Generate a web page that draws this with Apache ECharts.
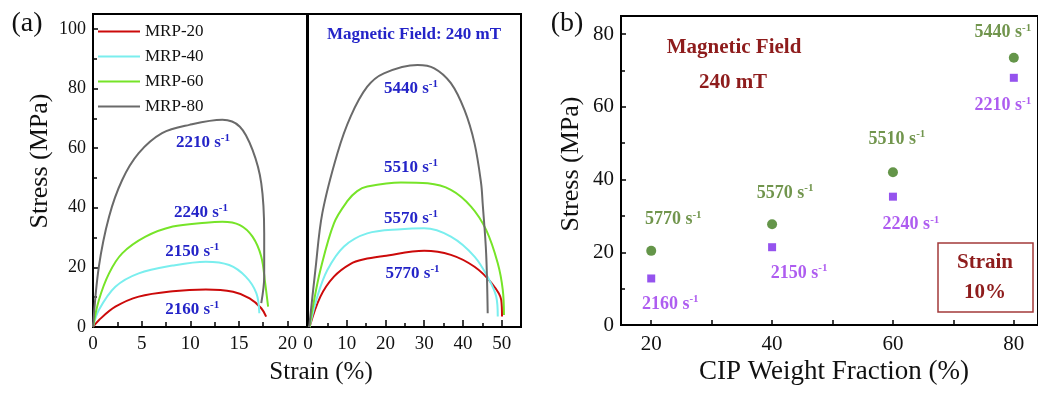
<!DOCTYPE html>
<html>
<head>
<meta charset="utf-8">
<script src="https://cdn.jsdelivr.net/npm/echarts@6/dist/echarts.min.js"></script>
<style>
html,body{margin:0;padding:0;background:#fff}
#main{width:1038px;height:393px}
</style>
</head>
<body>
<div id="main"></div>
<script>
//---------------- data ----------------
var grades = ['MRP-20', 'MRP-40', 'MRP-60', 'MRP-80'];

// (a) left: strain (%), stress (MPa) at ~2200 s-1
var lowRate20 = [[0,0],[0.6,2.3],[2.3,6.8],[4.7,10.2],[8.2,12],[11.6,12.6],[14.4,11.8],[16.1,9.6],[17.3,6.3],[17.8,3.5]];
var lowRate40 = [[0,0],[0.6,5.7],[2.3,13.5],[4.7,18],[8.2,20.6],[11.6,21.9],[14,20.8],[15.7,16.9],[16.8,11.3],[17.1,4.6]];
var lowRate60 = [[0,0],[0.6,9],[1.65,18],[3,24.7],[5.4,30.3],[8.2,33.7],[11.6,35],[13.3,35.3],[15.1,34.2],[16.4,30.3],[17.3,23.6],[17.7,14.7],[18,6.8]];
var lowRate80 = [[0,0],[0.6,20.2],[1.65,37],[3,49.3],[4.7,58.3],[7.1,65],[9.9,67.8],[13.3,69.5],[15.1,67.2],[16.4,59.4],[17.3,48.2],[17.6,31.4],[17.6,16.9],[17.3,8]];

// (a) right: strain (%), stress (MPa) at ~5500 s-1
var highRate20 = [[0.4,0],[3.2,10.2],[6.7,16.9],[11,21.2],[14.5,22.7],[19.6,23.8],[30,25.6],[36.9,24.2],[43,20.2],[47.4,14.7],[49.9,9.1],[50.1,3.5]];
var highRate40 = [[0.4,0],[2.4,10.2],[5,19.1],[9.3,27],[15.3,31.4],[24,32.8],[30,33.1],[36.9,30.3],[43,23.6],[46.8,15.8],[48.6,10.2],[49,3.5]];
var highRate60 = [[0.4,0],[1.3,7],[3.2,19.1],[6.7,34.8],[10.2,42.3],[12.7,45.6],[15.3,47.1],[24,48.5],[30.9,48.2],[36.9,46],[42.1,40.4],[46,32.6],[49,21.4],[50.3,12.4],[50.6,4]];
var highRate80 = [[0.3,0],[1.9,19.1],[3.7,38.2],[7.6,58.3],[11,70.6],[15.3,80.6],[19.6,85.1],[28.3,87.9],[32.6,86.8],[36.9,81.8],[40.4,72.8],[43,61.6],[44.7,48.2],[45.1,41.5],[46,24.7],[46.4,4.6]];

var lowRates = ['2160', '2150', '2240', '2210'];
var highRates = ['5770', '5570', '5510', '5440'];

// (b) stress at 10% strain
var cipFraction = [20, 40, 60, 80];
var stressHighRate = [20.4, 27.7, 42.0, 73.5];
var stressLowRate = [12.8, 21.4, 35.3, 68.0];

//---------------- style ----------------
var FONT = 'Liberation Serif';
var curveColors = ['#cc0a0a', '#7aeeee', '#76e428', '#6a6a6a'];
var rateBlue = '#2424c8';
var darkRed = '#8e1c1c';
var greenTxt = '#4e7a20';
var purpleTxt = '#9a35ec';

function rateText(rate) {
    return '{v|' + rate + ' s}{s|-1}';
}
function rateRich(color, size) {
    return {
        v: {fontFamily: FONT, fontWeight: 'bold', fontSize: size, color: color, lineHeight: size + 3},
        s: {fontFamily: FONT, fontWeight: 'bold', fontSize: Math.round(size * 0.62), color: color, lineHeight: Math.round(size * 0.7), verticalAlign: 'top'}
    };
}

var myChart = echarts.init(document.getElementById('main'));

var lowCurves = [lowRate20, lowRate40, lowRate60, lowRate80];
var highCurves = [highRate20, highRate40, highRate60, highRate80];
// where the rate notes sit (data coords)
var lowNoteAt = [[10.2, 5.7], [10.2, 25.2], [11.1, 38.3], [11.3, 62]];
var highNoteAt = [[27, 17.8], [26.6, 36.2], [26.6, 53.4], [26.6, 80]];

function curveSeries(name, data, color, axis, note, rate) {
    return {
        name: name,
        type: 'line',
        xAxisIndex: axis,
        yAxisIndex: axis,
        data: data,
        smooth: 0.35,
        symbol: 'none',
        showSymbol: false,
        lineStyle: {width: 2, color: color},
        itemStyle: {color: color},
        markPoint: {
            symbol: 'circle',
            symbolSize: 0,
            silent: true,
            label: {
                show: true,
                position: 'inside',
                formatter: rateText(rate),
                rich: rateRich(rateBlue, 17)
            },
            data: [{coord: note}]
        }
    };
}

var series = [];
for (var i = 0; i < 4; i++) {
    series.push(curveSeries(grades[i], lowCurves[i], curveColors[i], 0, lowNoteAt[i], lowRates[i]));
}
for (var j = 0; j < 4; j++) {
    series.push(curveSeries(grades[j], highCurves[j], curveColors[j], 1, highNoteAt[j], highRates[j]));
}

var greenShift = [[22, -31], [13, -31], [4, -33], [-11, -25]];
var purpleShift = [[19, 26], [27, 26], [18, 28], [-11, 28]];

series.push({
    name: 'high rate',
    type: 'scatter',
    xAxisIndex: 2,
    yAxisIndex: 2,
    symbol: 'circle',
    symbolSize: 10,
    itemStyle: {color: '#3d7a1c'},
    data: cipFraction.map(function (x, k) {
        return {value: [x, stressHighRate[k]], label: {offset: greenShift[k]}};
    }),
    label: {
        show: true,
        position: 'inside',
        formatter: function (p) { return rateText(highRates[p.dataIndex]); },
        rich: rateRich(greenTxt, 18)
    }
});
series.push({
    name: 'low rate',
    type: 'scatter',
    xAxisIndex: 2,
    yAxisIndex: 2,
    symbol: 'rect',
    symbolSize: 8,
    itemStyle: {color: '#7a28ea'},
    data: cipFraction.map(function (x, k) {
        return {value: [x, stressLowRate[k]], label: {offset: purpleShift[k]}};
    }),
    label: {
        show: true,
        position: 'inside',
        formatter: function (p) { return rateText(lowRates[p.dataIndex]); },
        rich: rateRich(purpleTxt, 18)
    }
});

var tickLbl = {fontFamily: FONT, color: '#111'};
var gridStyle = {show: true, borderColor: '#000', borderWidth: 2, backgroundColor: 'transparent'};

var option = {
    animation: false,
    textStyle: {fontFamily: FONT},
    grid: [
        Object.assign({left: 93, top: 14, width: 214, height: 313}, gridStyle),
        Object.assign({left: 308, top: 14, width: 213, height: 313}, gridStyle),
        Object.assign({left: 621, top: 16, width: 420, height: 309}, gridStyle)
    ],
    legend: {
        data: grades,
        orient: 'vertical',
        left: 97,
        top: 23,
        padding: 0,
        itemWidth: 42,
        itemHeight: 16,
        itemGap: 8,
        itemStyle: {opacity: 0},
        lineStyle: {width: 2},
        textStyle: {fontFamily: FONT, fontSize: 17, color: '#111'}
    },
    xAxis: [
        {
            gridIndex: 0, type: 'value', min: 0, max: 22, interval: 5,
            axisLine: {show: false},
            splitLine: {show: false},
            axisTick: {inside: true, length: 6, lineStyle: {color: '#000', width: 1.5}},
            minorTick: {show: true, splitNumber: 2, length: 5, lineStyle: {color: '#000', width: 1.5}},
            axisLabel: Object.assign({fontSize: 19, margin: 8, showMaxLabel: false}, tickLbl)
        },
        {
            gridIndex: 1, type: 'value', min: 0, max: 55, interval: 10,
            axisLine: {show: false},
            splitLine: {show: false},
            axisTick: {inside: true, length: 7, lineStyle: {color: '#000', width: 1.5}},
            minorTick: {show: true, splitNumber: 2, length: 4, lineStyle: {color: '#000', width: 1.5}},
            axisLabel: Object.assign({fontSize: 19, margin: 8, showMaxLabel: false}, tickLbl)
        },
        {
            gridIndex: 2, type: 'value', min: 15, max: 84,
            axisLine: {show: false},
            splitLine: {show: false},
            axisTick: {inside: true, length: 5, customValues: [20, 30, 40, 50, 60, 70, 80], lineStyle: {color: '#000', width: 1.5}},
            axisLabel: Object.assign({fontSize: 21, margin: 9, customValues: [20, 40, 60, 80]}, tickLbl)
        }
    ],
    yAxis: [
        {
            gridIndex: 0, type: 'value', min: 0, max: 105, interval: 20,
            axisLine: {show: false},
            splitLine: {show: false},
            axisTick: {inside: true, length: 5, lineStyle: {color: '#000', width: 1.5}},
            minorTick: {show: true, splitNumber: 2, length: 4, lineStyle: {color: '#000', width: 1.5}},
            axisLabel: Object.assign({fontSize: 18, margin: 7, showMaxLabel: false}, tickLbl)
        },
        {
            gridIndex: 1, type: 'value', min: 0, max: 105, interval: 20,
            axisLine: {show: false},
            splitLine: {show: false},
            axisTick: {show: false},
            axisLabel: {show: false}
        },
        {
            gridIndex: 2, type: 'value', min: 0, max: 85, interval: 20,
            axisLine: {show: false},
            splitLine: {show: false},
            axisTick: {inside: true, length: 5, lineStyle: {color: '#000', width: 1.5}},
            minorTick: {show: true, splitNumber: 2, length: 4, lineStyle: {color: '#000', width: 1.5}},
            axisLabel: Object.assign({fontSize: 21, margin: 7, showMaxLabel: false}, tickLbl)
        }
    ],
    graphic: [
        {type: 'text', x: 27, y: 24, style: {text: '(a)', font: '28px "' + FONT + '"', fill: '#111', align: 'center', verticalAlign: 'middle'}},
        {type: 'text', x: 567, y: 24, style: {text: '(b)', font: '28px "' + FONT + '"', fill: '#111', align: 'center', verticalAlign: 'middle'}},
        {type: 'text', x: 40, y: 161, rotation: Math.PI / 2, style: {text: 'Stress (MPa)', font: '26px "' + FONT + '"', fill: '#111', align: 'center', verticalAlign: 'middle'}},
        {type: 'text', x: 571, y: 164, rotation: Math.PI / 2, style: {text: 'Stress (MPa)', font: '26px "' + FONT + '"', fill: '#111', align: 'center', verticalAlign: 'middle'}},
        {type: 'text', x: 321, y: 372, style: {text: 'Strain (%)', font: '25px "' + FONT + '"', fill: '#111', align: 'center', verticalAlign: 'middle'}},
        {type: 'text', x: 834, y: 372, style: {text: 'CIP Weight Fraction (%)', font: '27px "' + FONT + '"', fill: '#111', align: 'center', verticalAlign: 'middle'}},
        {type: 'text', x: 414, y: 35, style: {text: 'Magnetic Field: 240 mT', font: 'bold 17px "' + FONT + '"', fill: rateBlue, align: 'center', verticalAlign: 'middle'}},
        {type: 'text', x: 734, y: 48, style: {text: 'Magnetic Field', font: 'bold 21px "' + FONT + '"', fill: darkRed, align: 'center', verticalAlign: 'middle'}},
        {type: 'text', x: 733, y: 83, style: {text: '240 mT', font: 'bold 21px "' + FONT + '"', fill: darkRed, align: 'center', verticalAlign: 'middle'}},
        {type: 'rect', shape: {x: 938, y: 243, width: 95, height: 69}, style: {fill: 'transparent', stroke: '#a23a3a', lineWidth: 1.5}},
        {type: 'text', x: 985, y: 263, style: {text: 'Strain', font: 'bold 21px "' + FONT + '"', fill: darkRed, align: 'center', verticalAlign: 'middle'}},
        {type: 'text', x: 985, y: 293, style: {text: '10%', font: 'bold 21px "' + FONT + '"', fill: darkRed, align: 'center', verticalAlign: 'middle'}}
    ],
    series: series
};

myChart.setOption(option);
</script>
</body>
</html>
